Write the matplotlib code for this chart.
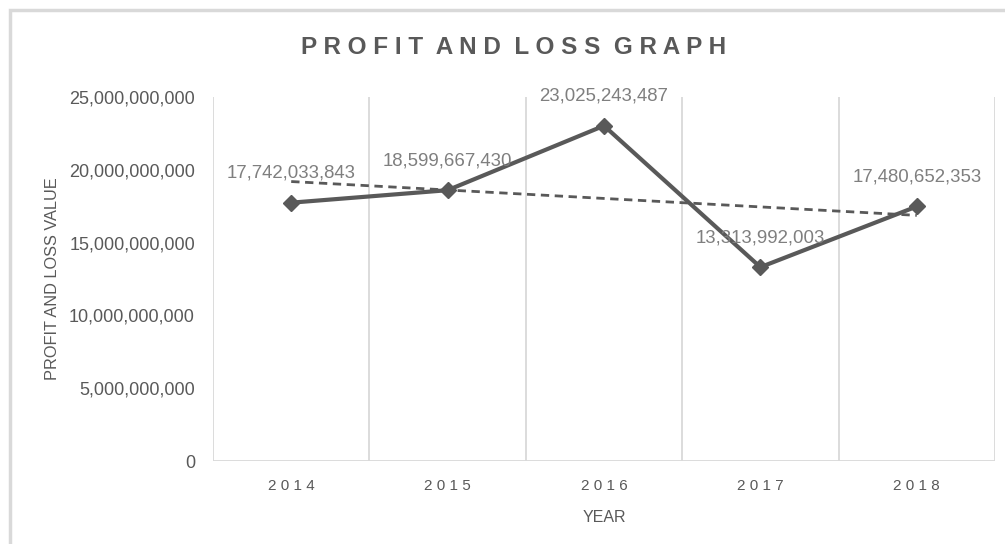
import matplotlib
matplotlib.use("Agg")
import matplotlib.pyplot as plt
import numpy as np
from matplotlib.patches import Rectangle

years = ["2014", "2015", "2016", "2017", "2018"]
values = [17742033843, 18599667430, 23025243487, 13313992003, 17480652353]
y_ticks = [0, 5e9, 10e9, 15e9, 20e9, 25e9]

W, H = 1005, 544
fig = plt.figure(figsize=(W/100, H/100), dpi=100)
fig.patch.set_facecolor("white")

# outer border
fig.patches.append(Rectangle((10/W, -0.1), 1.2, 1.1 - 10/H, transform=fig.transFigure,
                             fill=False, edgecolor="#d9d9d9", linewidth=2.5))

left, right, top, bottom = 213, 995, 97, 461
ax = fig.add_axes([left/W, 1 - bottom/H, (right-left)/W, (bottom-top)/H])
n = len(years)
x = np.arange(n)
ax.set_xlim(-0.5, n - 0.5)
ax.set_ylim(0, 25e9)

grey = "#595959"
txt = "#595959"
fam = ["Liberation Sans", "DejaVu Sans"]

# vertical gridlines at category boundaries
for b in np.arange(-0.5, n, 1.0):
    ax.axvline(b, color="#d9d9d9", linewidth=1.3, zorder=0)
for s in ax.spines.values():
    s.set_visible(False)
ax.axhline(0, color="#d9d9d9", linewidth=1.3, zorder=0)

# linear trendline
coef = np.polyfit(x, values, 1)
trend = np.polyval(coef, x)
ax.plot(x, trend, color=grey, linestyle=(0, (3, 2)), linewidth=2.0, zorder=2)

ax.plot(x, values, color=grey, linewidth=3, marker="D", markersize=8.5, zorder=3)

for xi, v in zip(x, values):
    ax.annotate(f"{v:,}", (xi, v), xytext=(0, 15), textcoords="offset points",
                ha="center", va="bottom", fontsize=13.4, color="#7f7f7f", family=fam)

ax.set_xticks(x)
ax.set_xticklabels([" ".join(y) for y in years], fontsize=11, color=txt, family=fam)
ax.set_yticks(y_ticks)
ax.set_yticklabels([f"{int(t):,}" for t in y_ticks], fontsize=13, color=txt, family=fam)
ax.tick_params(length=0)
ax.tick_params(axis="y", pad=13)
ax.tick_params(axis="x", pad=13)

ax.set_xlabel("YEAR", fontsize=11.5, color=txt, family=fam, labelpad=12)
ax.set_ylabel("PROFIT AND LOSS VALUE", fontsize=11.8, color=txt, family=fam)
ax.yaxis.set_label_coords((60 - left) / (right - left), 0.5)

fig.text(514/W, 1 - 47/H, "P R O F I T  A N D  L O S S  G R A P H",
         ha="center", va="center", fontsize=17.5, fontweight="bold", color=txt, family=fam)

fig.savefig("out.png", dpi=100, facecolor="white")
